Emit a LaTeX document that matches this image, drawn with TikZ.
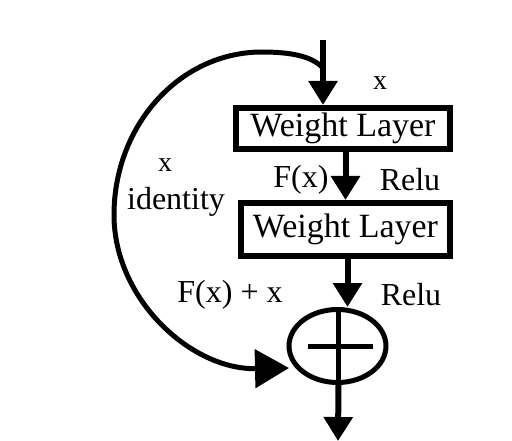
\documentclass[tikz,border=0pt]{standalone}
\usepackage{fontspec}
\setmainfont{Liberation Serif}
\usetikzlibrary{arrows.meta,positioning,shapes.geometric}

\begin{document}
\begin{tikzpicture}[
  x=1pt,y=-1pt,
  node distance=48pt,
  layer/.style={draw,line width=6pt,inner sep=0pt,font=\fontsize{34}{38}\selectfont},
  lbl/.style={inner sep=0pt,font=\fontsize{32}{36}\selectfont},
  small/.style={inner sep=0pt,font=\fontsize{28}{32}\selectfont},
  arr/.style={-{Triangle[length=24pt,width=28pt]},line width=6pt},
  skiparr/.style={-{Triangle[length=34pt,width=38pt]},line width=5pt}
]
\useasboundingbox (0,0) rectangle (512,441);
% blocks
\node[layer,minimum width=214pt,minimum height=41pt] (wl1) at (343,128.5) {Weight Layer};
\node[layer,minimum width=209pt,minimum height=53pt,below=of wl1,xshift=2.5pt] (wl2) {Weight Layer};
\node[draw,ellipse,line width=5pt,minimum width=97pt,minimum height=73pt,below=of wl2,xshift=-8pt] (sum) {};
\draw[line width=5pt] ([xshift=1pt]sum.north) -- ([xshift=1pt]sum.south);
\draw[line width=5pt] ([xshift=-30pt]sum.center) -- ([xshift=35pt]sum.center);
% free ends
\coordinate (in) at (323,40);
\coordinate (split) at (323,68);
\coordinate (skipend) at (289,368);
\coordinate (out) at (338,441);
% main path
\draw[arr] (in) -- (in |- wl1.north);
\draw[arr] (wl1.south -| wl2.north) -- (wl2.north);
\draw[arr] ([xshift=2pt]wl2.south) -- ([xshift=2pt]wl2.south |- sum.north);
\draw[arr] ([xshift=1pt]sum.south) -- (out);
% shortcut
\draw[skiparr] (split) .. controls (312,56) and (290,52) .. (262,52)
  .. controls (180,52) and (114,125) .. (114,215)
  .. controls (114,299) and (191,370) .. (skipend);
% labels
\node[small] (xin) at (380,83) {x};
\node[lbl] (fx) at (301,180) {F(x)};
\node[lbl] (relu1) at (410,180) {Relu};
\node[small] (xid) at (165,165) {x};
\node[lbl] (ident) at (176,202) {identity};
\node[lbl] (fxx) at (230,295) {F(x) + x};
\node[lbl] (relu2) at (411,295) {Relu};
\end{tikzpicture}
\end{document}
